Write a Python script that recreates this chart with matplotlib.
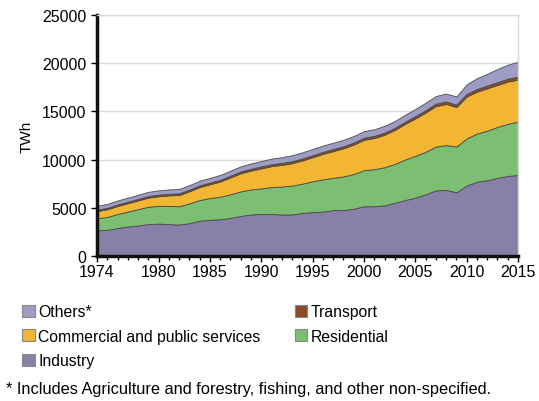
import matplotlib.pyplot as plt
from matplotlib.patches import Patch
import numpy as np

plt.rcParams['font.family'] = ['Liberation Sans', 'DejaVu Sans']

years = list(range(1974, 2016))

# TWh per sector (stacked from bottom)
industry = [2650, 2700, 2900, 3050, 3150, 3300, 3350, 3300, 3250, 3400, 3650, 3750, 3800, 3950,
            4150, 4300, 4350, 4350, 4300, 4300, 4450, 4550, 4600, 4750, 4750, 4900, 5150, 5150,
            5250, 5500, 5800, 6050, 6400, 6800, 6850, 6600, 7300, 7700, 7850, 8100, 8300, 8400]
residential = [1250, 1350, 1450, 1550, 1700, 1800, 1850, 1900, 1900, 2050, 2150, 2250, 2350, 2450,
               2550, 2600, 2650, 2800, 2900, 3000, 3050, 3200, 3350, 3350, 3500, 3600, 3750, 3850,
               3950, 4050, 4200, 4350, 4400, 4550, 4650, 4750, 4900, 5000, 5150, 5300, 5400, 5550]
commercial = [750, 790, 830, 870, 910, 950, 990, 1080, 1170, 1260, 1350, 1440, 1570, 1750,
              1880, 1960, 2090, 2170, 2250, 2330, 2410, 2500, 2640, 2780, 2920, 3060, 3150, 3240,
              3380, 3520, 3700, 3870, 4090, 4200, 4270, 4100, 4350, 4350, 4400, 4350, 4400, 4350]
transport = [150, 150, 155, 160, 160, 165, 170, 170, 175, 175, 180, 180, 185, 190,
             190, 195, 200, 200, 200, 205, 205, 210, 210, 215, 215, 220, 220, 225,
             225, 230, 235, 240, 245, 250, 255, 255, 265, 275, 285, 290, 300, 310]
others = [400, 410, 415, 420, 430, 435, 440, 450, 455, 465, 470, 480, 495, 510,
          530, 545, 560, 580, 600, 615, 635, 640, 650, 655, 665, 670, 680, 685,
          695, 700, 715, 740, 765, 800, 825, 845, 985, 1125, 1215, 1360, 1450, 1540]

labels = ['Industry', 'Residential', 'Commercial and public services', 'Transport', 'Others*']
colors = ['#8781a8', '#7dbf72', '#f2b632', '#8c4a27', '#9d9cc4']

fig = plt.figure(figsize=(5.39, 4.02), dpi=100)
ax = fig.add_axes([0.18, 0.361, 0.781, 0.599])

ax.stackplot(years, industry, residential, commercial, transport, others,
             colors=colors, edgecolor='#4a4a4a', linewidth=0.6)

ax.set_xlim(1974, 2015)
ax.set_ylim(0, 25000)
ax.set_xticks([1974, 1980, 1985, 1990, 1995, 2000, 2005, 2010, 2015])
ax.set_xticks(years, minor=True)
ax.set_yticks(np.arange(0, 25001, 5000))
ax.yaxis.grid(True, color='#d9d9d9', linewidth=1)
ax.set_axisbelow(True)

ax.tick_params(axis='both', labelsize=11.5, colors='black', length=4, width=1)
ax.tick_params(axis='x', which='minor', length=3, width=1)
ax.tick_params(axis='x', pad=2)

for s in ['left', 'bottom']:
    ax.spines[s].set_linewidth(2.5)
    ax.spines[s].set_color('#111111')
for s in ['top', 'right']:
    ax.spines[s].set_linewidth(1)
    ax.spines[s].set_color('#d9d9d9')

ax.set_ylabel('TWh', fontsize=11, labelpad=6)

order = [4, 2, 0, 3, 1]
handles = [Patch(facecolor=colors[i], edgecolor='#888888', linewidth=0.8) for i in order]
fig.legend(handles, [labels[i] for i in order], ncol=2, loc='upper left',
           bbox_to_anchor=(0.03, 0.257), frameon=False, fontsize=11.3,
           handlelength=0.8, handleheight=0.8, handletextpad=0.2,
           columnspacing=2.2, labelspacing=0.62, borderaxespad=0)

fig.text(0.012, 0.012, '* Includes Agriculture and forestry, fishing, and other non-specified.',
         fontsize=11.8, ha='left', va='bottom')

fig.savefig('out.png', dpi=100)
